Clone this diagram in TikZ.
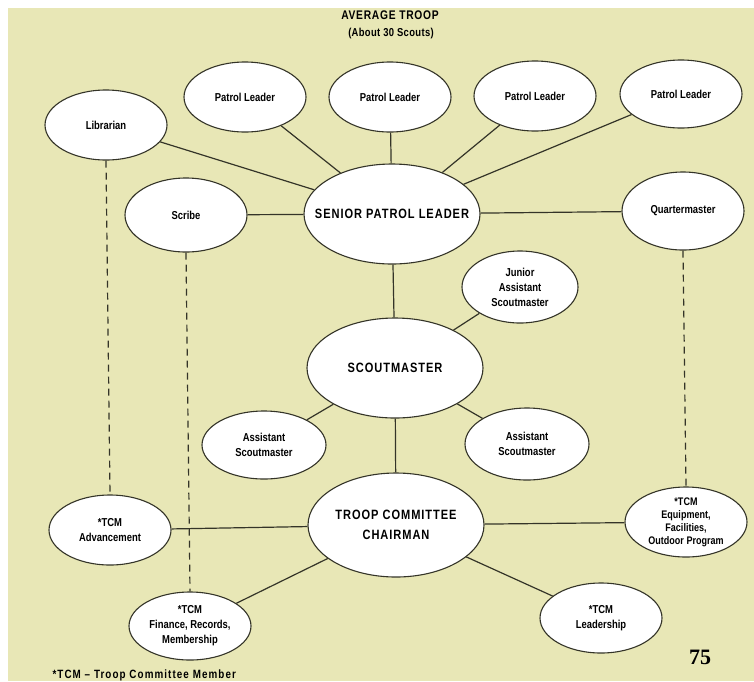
\documentclass[tikz,border=0pt]{standalone}
\usepackage{fontspec}
\setmainfont[FakeStretch=0.82]{Liberation Sans}
\newfontfamily\pagefont{Liberation Serif}
\usetikzlibrary{shapes.geometric}
\definecolor{paper}{RGB}{232,231,182}
\definecolor{ink}{RGB}{52,52,40}

\begin{document}
\begin{tikzpicture}[x=1pt, y=-1pt,
		post/.style = {ellipse, draw=ink, line width=1.1pt, fill=white, inner sep=0pt, minimum width=122pt, minimum height=70pt, align=center, font=\fontsize{11.5}{15}\selectfont\bfseries},
		head/.style = {post, inner xsep=-16pt, minimum width=176pt, minimum height=100pt, font=\fontsize{13.5}{20}\selectfont\bfseries\addfontfeature{LetterSpace=7}},
		link/.style = {ink, line width=1.2pt},
		tcm/.style = {ink, line width=1.2pt, dash pattern=on 7pt off 5pt}]
		% page
		\fill [white] (0,0) rectangle (754,681);
		\fill [paper] (8,8) rectangle (754,681);
		\useasboundingbox (0,0) rectangle (754,681);
		\node (title) at (390,15) {\fontsize{12.5}{13}\selectfont\bfseries\addfontfeature{LetterSpace=6}AVERAGE TROOP};
		\node (about) at (391,34) {\fontsize{11.5}{13}\selectfont\bfseries\addfontfeature{LetterSpace=3}(About 30 Scouts)};
		% patrol side
		\node [post] (lib) at (106,125) {Librarian};
		\node [post] (pl1) at (245,97) {Patrol Leader};
		\node [post] (pl2) at (390,97) {Patrol Leader};
		\node [post] (pl3) at (535,96) {Patrol Leader};
		\node [post, minimum height=68pt] (pl4) at (681,94) {Patrol Leader};
		\node [post, minimum height=74pt] (scribe) at (186,215) {Scribe};
		\node [head] (spl) at (392,214) {SENIOR PATROL LEADER};
		\node [post, minimum height=78pt] (qm) at (683,211) {Quartermaster};
		% scoutmaster
		\node [post, minimum width=116pt, minimum height=72pt] (jasm) at (520,287) {Junior\\Assistant\\Scoutmaster};
		\node [head] (sm) at (395,368) {SCOUTMASTER};
		\node [post, minimum width=124pt, minimum height=68pt] (asml) at (264,445) {Assistant\\Scoutmaster};
		\node [post, minimum width=124pt, minimum height=72pt] (asmr) at (527,444) {Assistant\\Scoutmaster};
		% committee
		\node [head, minimum height=104pt] (tcc) at (396,525) {TROOP COMMITTEE\\CHAIRMAN};
		\node [post] (adv) at (110,530) {*TCM\\Advancement};
		\node [post, font=\fontsize{11}{13}\selectfont\bfseries] (equip) at (686,522) {*TCM\\Equipment,\\Facilities,\\Outdoor Program};
		\node [post, minimum height=68pt] (fin) at (190,626) {*TCM\\Finance, Records,\\Membership};
		\node [post] (lead) at (601,618) {*TCM\\Leadership};
		\node [anchor=west] (note) at (49,675) {\fontsize{12}{13}\selectfont\bfseries\addfontfeature{LetterSpace=9}*TCM -- Troop Committee Member};
		\node (page) at (700,657) {\fontsize{22}{24}\selectfont\pagefont\bfseries 75};
		% lines
		\draw [link] (lib) -- (spl);
		\draw [link] (pl1) -- (spl);
		\draw [link] (pl2) -- (spl);
		\draw [link] (pl3) -- (spl);
		\draw [link] (pl4) -- (spl);
		\draw [link] (scribe) -- (spl);
		\draw [link] (spl) -- (qm);
		\draw [link] (spl) -- (sm);
		\draw [link] (sm) -- (jasm);
		\draw [link] (sm) -- (asml);
		\draw [link] (sm) -- (asmr);
		\draw [link] (sm) -- (tcc);
		\draw [link] (tcc) -- (adv);
		\draw [link] (tcc) -- (equip);
		\draw [link] (tcc) -- (fin);
		\draw [link] (tcc) -- (lead);
		\draw [tcm] (lib.south) -- (adv.north);
		\draw [tcm] (scribe.south) -- (fin.north);
		\draw [tcm] (qm.south) -- (equip.north);
\end{tikzpicture}
\end{document}
